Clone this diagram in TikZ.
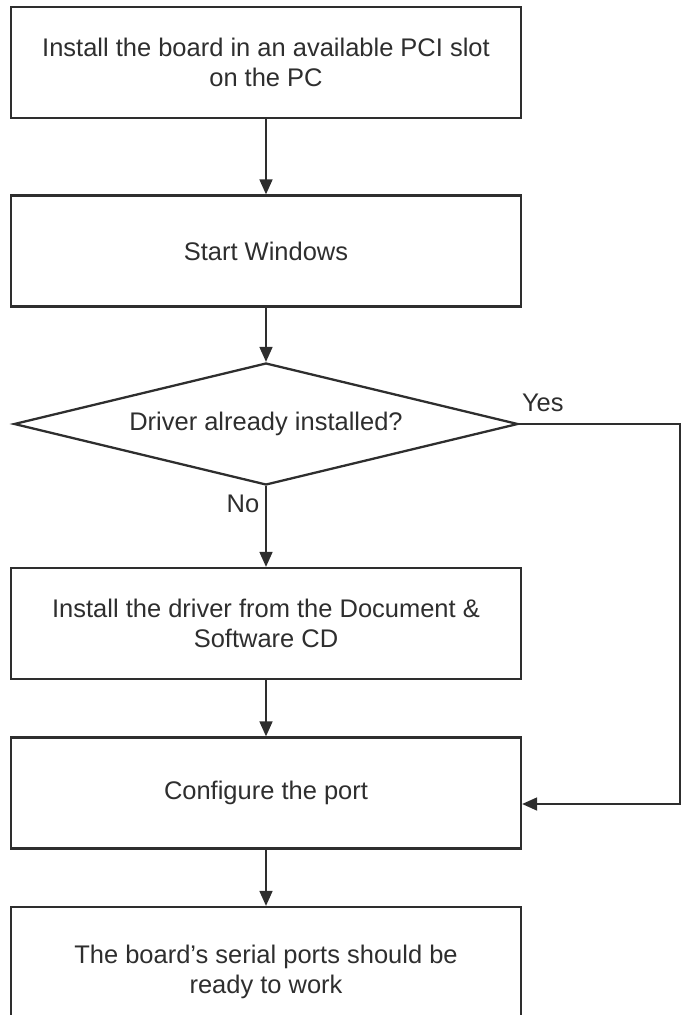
\documentclass[tikz,border=0pt]{standalone}
\usepackage{fontspec}
\setmainfont{Liberation Sans}
\usepackage{tikz}
\usetikzlibrary{shapes.geometric, arrows.meta, positioning}
\definecolor{inkgray}{HTML}{2E2E2E}

\begin{document}
\begin{tikzpicture}[node distance=3.4cm, every node/.style={font=\fontsize{14.5}{17.5}\selectfont, text=inkgray}, align=center,
    stepbox/.style={draw=inkgray, line width=1.3pt, rectangle, minimum width=10.2cm, minimum height=2.22cm},
    arr/.style={draw=inkgray, line width=1pt, -{Triangle[length=0.3cm,width=0.26cm]}}]
        \useasboundingbox (0,0) rectangle (13.64,-20.3);
        \clip (0,0) rectangle (13.64,-20.3);
        \node (board) [stepbox] at (5.32,-1.25) {Install the board in an available PCI slot \\ on the PC};
        \node (win) [stepbox, below of=board, node distance=3.77cm] {Start Windows};
        \node (drv) [draw=inkgray, line width=1.3pt, diamond, aspect=4.13, minimum width=10.08cm, minimum height=2.44cm, inner sep=0pt, below of=win, node distance=3.46cm] {Driver already installed?};
        \node (cd) [stepbox, below of=drv, node distance=3.99cm] {Install the driver from the Document \& \\ Software CD};
        \node (port) [stepbox, below of=cd, node distance=3.39cm] {Configure the port};
        \node (ready) [stepbox, minimum height=2.6cm, below of=port, node distance=3.58cm] {The board's serial ports should be \\ ready to work};
        \coordinate (yesend) at (13.6,-16.08);

        \draw [arr] (board) -- (win);
        \draw [arr] (win) -- (drv);
        \draw [arr] (drv) -- node[pos=0.22, left] {No} (cd);
        \draw [arr] (cd) -- (port);
        \draw [arr] (port) -- (ready);
        \draw [arr] (drv.east) -| (yesend) -- (port.east |- yesend);
        \node (yes) [anchor=base west, inner sep=0pt, xshift=0.05cm, yshift=0.26cm] at (drv.east) {Yes};
    \end{tikzpicture}
\end{document}
